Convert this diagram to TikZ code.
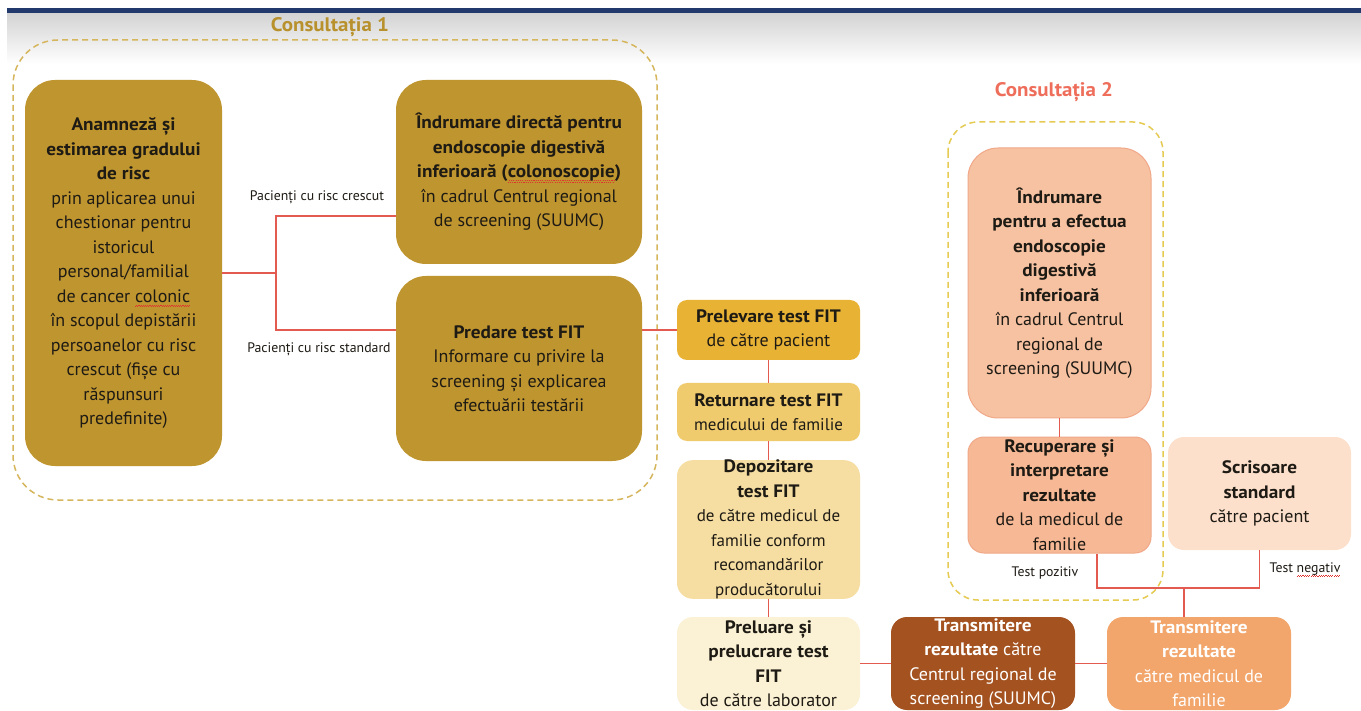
\documentclass[tikz,border=0pt]{standalone}
\usepackage{fontspec}
\setmainfont{PT Sans}[BoldFeatures={FakeStretch=1.07}]
\usetikzlibrary{calc}
\definecolor{navy}{HTML}{22396E}
\definecolor{bgtop}{HTML}{D4D4D4}
\definecolor{gold}{HTML}{BF952F}
\definecolor{titleA}{HTML}{B8902C}
\definecolor{titleB}{HTML}{EE6E5B}
\definecolor{contA}{HTML}{D6B65C}
\definecolor{contB}{HTML}{E5CB52}
\definecolor{conn}{HTML}{E35B50}
\definecolor{pA}{HTML}{E8B235}
\definecolor{pB}{HTML}{F0CB6E}
\definecolor{pC}{HTML}{F6DEA2}
\definecolor{pD}{HTML}{FBF1D4}
\definecolor{tA}{HTML}{A4521F}
\definecolor{tB}{HTML}{F2A66C}
\definecolor{qA}{HTML}{F7C2A2}
\definecolor{qAb}{HTML}{F0A888}
\definecolor{qR}{HTML}{F6B895}
\definecolor{qS}{HTML}{FCE0CB}
\definecolor{txt}{HTML}{1E1A14}
\definecolor{squig}{HTML}{E03030}
\newcommand\squig[1]{\setbox0=\hbox{#1}\leavevmode\rlap{\color{squig}\hbox to \wd0{\xleaders\hbox{\rule[-4.6pt]{1.1pt}{0.8pt}\rule[-3.4pt]{1.1pt}{0.8pt}}\hfil}}\box0}
\newcommand\B[1]{\textbf{#1}}
\tikzset{
  boxbase/.style={rectangle, align=center, inner sep=0pt, text=txt,
    font=\fontsize{18}{24.5}\selectfont},
  bigbox/.style={boxbase, rounded corners=30pt},
  colbox/.style={boxbase, rounded corners=10pt},
  midbox/.style={boxbase, rounded corners=16pt},
  wire/.style={draw=conn, line width=1.3pt},
  container/.style={draw, dash pattern=on 6pt off 4pt, line width=1.5pt},
  lbl/.style={font=\fontsize{13.8}{15}\selectfont, text=txt, inner sep=0pt},
  ttl/.style={font=\fontsize{19.6}{22}\selectfont\bfseries, inner sep=0pt}
}
\begin{document}
\begin{tikzpicture}[x=1pt,y=-1pt]
\useasboundingbox (0,0) rectangle (1361,711);
\fill[white] (0,0) rectangle (1361,711);
% header
\shade[top color=bgtop, bottom color=white] (7,14) rectangle (1361,64);
\fill[navy] (7,8) rectangle (1361,13.5);

% containers
\draw[container, draw=contA, rounded corners=45pt] (13,40) rectangle (657,500);
\draw[container, draw=contB, rounded corners=30pt] (948,122) rectangle (1163,600);
\node[ttl, text=titleA] (t1) at (330,27) {Consultația 1};
\node[ttl, text=titleB] (t2) at (1054,92) {Consultația 2};

% Consultatia 1 boxes
\node[bigbox, fill=gold, minimum width=197pt, minimum height=386pt] (A) at (123.5,273)
 {\B{Anamneză și}\\\B{estimarea gradului}\\\B{de risc}\\prin aplicarea unui\\chestionar pentru\\istoricul\\personal/familial\\de cancer \squig{colonic}\\în scopul depistării\\persoanelor cu risc\\crescut (fișe cu\\răspunsuri\\predefinite)};
\node[bigbox, fill=gold, minimum width=246pt, minimum height=184pt] (Bx) at (519,172)
 {\B{Îndrumare directă pentru}\\\B{endoscopie digestivă}\\\B{inferioară (\squig{colonoscopie})}\\în cadrul Centrul regional\\de screening (SUUMC)};
\node[bigbox, fill=gold, minimum width=246pt, minimum height=185pt] (C) at (519,368.5)
 {\B{Predare test FIT}\\Informare cu privire la\\screening și explicarea\\efectuării testării};

% column
\node[colbox, fill=pA, minimum width=183pt, minimum height=60pt] (P1) at (768.5,330)
 {\B{Prelevare test FIT}\\de către pacient};
\node[colbox, fill=pB, minimum width=183pt, minimum height=58pt] (P2) at (768.5,412)
 {\B{Returnare test FIT}\\{\fontsize{17}{24}\selectfont medicului de familie}};
\node[midbox, fill=pC, minimum width=183pt, minimum height=137pt] (P3) at (768.5,529.5)
 {\B{Depozitare}\\\B{test FIT}\\{\fontsize{17}{23}\selectfont de către medicul de}\\{\fontsize{17}{23}\selectfont familie conform}\\{\fontsize{17}{23}\selectfont recomandărilor}\\{\fontsize{17}{23}\selectfont producătorului}};
\node[midbox, fill=pD, minimum width=183pt, minimum height=93pt] (P4) at (768.5,663.5)
 {\B{Preluare și}\\\B{prelucrare test}\\\B{FIT}\\de către laborator};

% bottom transmit boxes
\node[midbox, fill=tA, text=white, minimum width=184pt, minimum height=93pt] (T1) at (983,663.5)
 {\B{Transmitere}\\\B{rezultate} către\\Centrul regional de\\screening (SUUMC)};
\node[midbox, fill=tB, text=white, minimum width=184pt, minimum height=93pt] (T2) at (1199,663.5)
 {\B{Transmitere}\\\B{rezultate}\\către medicul de\\familie};

% Consultatia 2 boxes
\node[bigbox, fill=qA, draw=qAb, line width=1pt, minimum width=183pt, minimum height=270pt] (Q) at (1059.5,283)
 {\B{Îndrumare}\\\B{pentru a efectua}\\\B{endoscopie}\\\B{digestivă}\\\B{inferioară}\\în cadrul Centrul\\regional de\\screening (SUUMC)};
\node[midbox, fill=qR, draw=qAb, line width=1pt, minimum width=183pt, minimum height=116pt] (R) at (1059.5,495)
 {\B{Recuperare și}\\\B{interpretare}\\\B{rezultate}\\de la medicul de\\familie};
\node[midbox, fill=qS, minimum width=183pt, minimum height=113pt] (S) at (1259.5,493.5)
 {\B{Scrisoare}\\\B{standard}\\către pacient};

% connectors
\coordinate (j1) at (276,273);
\coordinate (jB) at (0,216);
\coordinate (jC) at (0,330);
\draw[wire] (A.east |- j1) -- (j1);
\draw[wire] (Bx.west |- jB) -| (j1 |- jC) -- (C.west |- jC);
\draw[wire] (C.east |- P1.west) -- (P1.west);
\draw[wire] (P1.south) -- (P2.north);
\draw[wire] (P2.south) -- (P3.north);
\draw[wire] (P3.south) -- (P4.north);
\draw[wire] (P4.east) -- (T1.west);
\draw[wire] (T1.east) -- (T2.west);
\draw[wire] (Q.south) -- (R.north);
\coordinate (jm) at (1184,588);
\coordinate (jr) at (1097,0);
\draw[wire] (R.south -| jr) |- (S.south |- jm) -- (S.south);
\draw[wire] (jm) -- (T2.north -| jm);

% labels
\node[lbl] (l1) at (317,197) {Pacienți cu risc crescut};
\node[lbl] (l2) at (319,349) {Pacienți cu risc standard};
\node[lbl] (l3) at (1045,573) {Test pozitiv};
\node[lbl] (l4) at (1305,570) {Test \squig{negativ}};
\end{tikzpicture}
\end{document}
